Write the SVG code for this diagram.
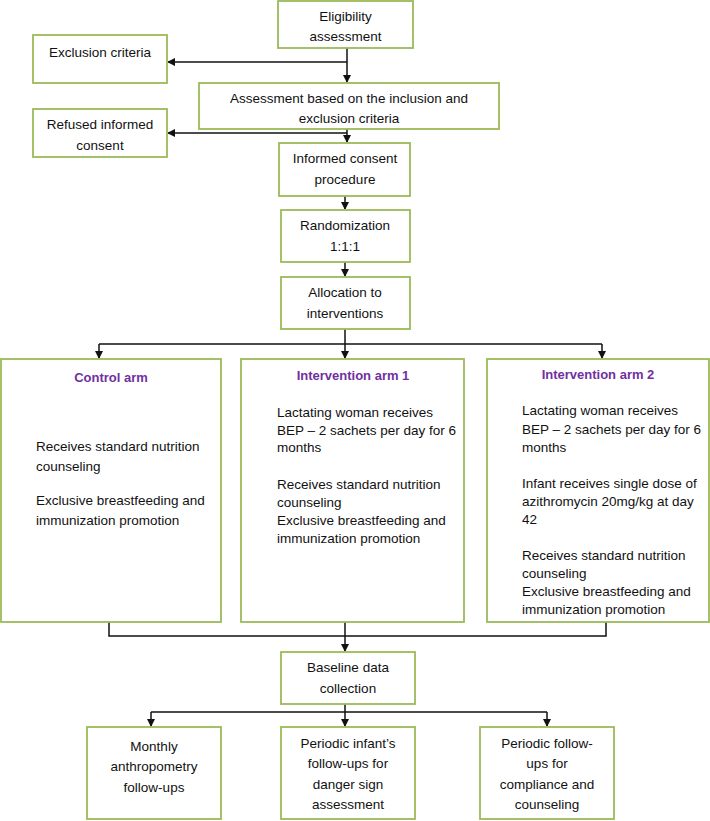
<svg xmlns="http://www.w3.org/2000/svg" width="710" height="821" viewBox="0 0 710 821">
<defs>
<style>
.box{fill:#fff;stroke:#9BBB59;stroke-width:1.8}
.t{font-family:"Liberation Sans",Arial,sans-serif;font-size:13.5px;fill:#111}
.c{text-anchor:middle}
.h{font-family:"Liberation Sans",Arial,sans-serif;font-size:13px;font-weight:bold;fill:#7030A0;text-anchor:middle}
.ln{fill:none;stroke:#111;stroke-width:1.5}
</style>
<marker id="ah" markerWidth="8" markerHeight="8" refX="7" refY="4" orient="auto" markerUnits="userSpaceOnUse">
<path d="M0,0 L8,4 L0,8 z" fill="#111"/>
</marker>
</defs>
<rect width="710" height="821" fill="#fff"/>
<g id="connectors">
<path class="ln" d="M347,48 V82" marker-end="url(#ah)"/>
<path class="ln" d="M347,62 H168" marker-end="url(#ah)"/>
<path class="ln" d="M347,129 V142" marker-end="url(#ah)"/>
<path class="ln" d="M347,133 H168" marker-end="url(#ah)"/>
<path class="ln" d="M345,196 V209" marker-end="url(#ah)"/>
<path class="ln" d="M345,262 V276" marker-end="url(#ah)"/>
<path class="ln" d="M345,329 V358" marker-end="url(#ah)"/>
<path class="ln" d="M99,344 H602"/>
<path class="ln" d="M99,344 V358" marker-end="url(#ah)"/>
<path class="ln" d="M602,344 V358" marker-end="url(#ah)"/>
<path class="ln" d="M109,622 V636 H606 V622"/>
<path class="ln" d="M345,622 V651" marker-end="url(#ah)"/>
<path class="ln" d="M345,704 V726" marker-end="url(#ah)"/>
<path class="ln" d="M151,712 H547"/>
<path class="ln" d="M151,712 V726" marker-end="url(#ah)"/>
<path class="ln" d="M547,712 V726" marker-end="url(#ah)"/>
</g>
<g id="eligibility">
<rect class="box" x="278" y="1" width="135" height="47"/>
<text class="t c" x="345.5" y="21">Eligibility</text>
<text class="t c" x="345.5" y="41">assessment</text>
</g>
<g id="exclusion">
<rect class="box" x="33" y="35" width="134" height="48"/>
<text class="t c" x="100" y="57">Exclusion criteria</text>
</g>
<g id="assessment">
<rect class="box" x="199" y="83" width="300" height="46"/>
<text class="t c" x="349" y="103">Assessment based on the inclusion and</text>
<text class="t c" x="349" y="123">exclusion criteria</text>
</g>
<g id="refused">
<rect class="box" x="33" y="109" width="134" height="48"/>
<text class="t c" x="100" y="129">Refused informed</text>
<text class="t c" x="100" y="150">consent</text>
</g>
<g id="consent">
<rect class="box" x="279" y="143" width="131" height="53"/>
<text class="t c" x="345" y="163">Informed consent</text>
<text class="t c" x="345" y="184">procedure</text>
</g>
<g id="randomization">
<rect class="box" x="281" y="210" width="129" height="52"/>
<text class="t c" x="345" y="230">Randomization</text>
<text class="t c" x="345" y="251">1:1:1</text>
</g>
<g id="allocation">
<rect class="box" x="281" y="277" width="129" height="52"/>
<text class="t c" x="345" y="297">Allocation to</text>
<text class="t c" x="345" y="318">interventions</text>
</g>
<g id="control">
<rect class="box" x="1" y="359" width="220" height="263"/>
<text class="h" x="111" y="382">Control arm</text>
<text class="t" x="36" y="451">Receives standard nutrition</text>
<text class="t" x="36" y="471">counseling</text>
<text class="t" x="36" y="505">Exclusive breastfeeding and</text>
<text class="t" x="36" y="525">immunization promotion</text>
</g>
<g id="arm1">
<rect class="box" x="241" y="359" width="223" height="263"/>
<text class="h" x="353" y="380">Intervention arm 1</text>
<text class="t" x="277" y="417">Lactating woman receives</text>
<text class="t" x="277" y="435">BEP – 2 sachets per day for 6</text>
<text class="t" x="277" y="452">months</text>
<text class="t" x="277" y="489">Receives standard nutrition</text>
<text class="t" x="277" y="507">counseling</text>
<text class="t" x="277" y="525">Exclusive breastfeeding and</text>
<text class="t" x="277" y="543">immunization promotion</text>
</g>
<g id="arm2">
<rect class="box" x="487" y="359" width="222" height="263"/>
<text class="h" x="598" y="379">Intervention arm 2</text>
<text class="t" x="522" y="415">Lactating woman receives</text>
<text class="t" x="522" y="434">BEP – 2 sachets per day for 6</text>
<text class="t" x="522" y="452">months</text>
<text class="t" x="522" y="488">Infant receives single dose of</text>
<text class="t" x="522" y="506">azithromycin 20mg/kg at day</text>
<text class="t" x="522" y="524">42</text>
<text class="t" x="522" y="560">Receives standard nutrition</text>
<text class="t" x="522" y="578">counseling</text>
<text class="t" x="522" y="596">Exclusive breastfeeding and</text>
<text class="t" x="522" y="614">immunization promotion</text>
</g>
<g id="baseline">
<rect class="box" x="281" y="652" width="134" height="52"/>
<text class="t c" x="348" y="672">Baseline data</text>
<text class="t c" x="348" y="693">collection</text>
</g>
<g id="monthly">
<rect class="box" x="87" y="727" width="134" height="92"/>
<text class="t c" x="154" y="751">Monthly</text>
<text class="t c" x="154" y="771">anthropometry</text>
<text class="t c" x="154" y="792">follow-ups</text>
</g>
<g id="infant">
<rect class="box" x="281" y="727" width="134" height="92"/>
<text class="t c" x="348" y="748">Periodic infant’s</text>
<text class="t c" x="348" y="768">follow-ups for</text>
<text class="t c" x="348" y="789">danger sign</text>
<text class="t c" x="348" y="809">assessment</text>
</g>
<g id="compliance">
<rect class="box" x="480" y="727" width="134" height="92"/>
<text class="t c" x="547" y="748">Periodic follow-</text>
<text class="t c" x="547" y="768">ups for</text>
<text class="t c" x="547" y="789">compliance and</text>
<text class="t c" x="547" y="809">counseling</text>
</g>
</svg>
